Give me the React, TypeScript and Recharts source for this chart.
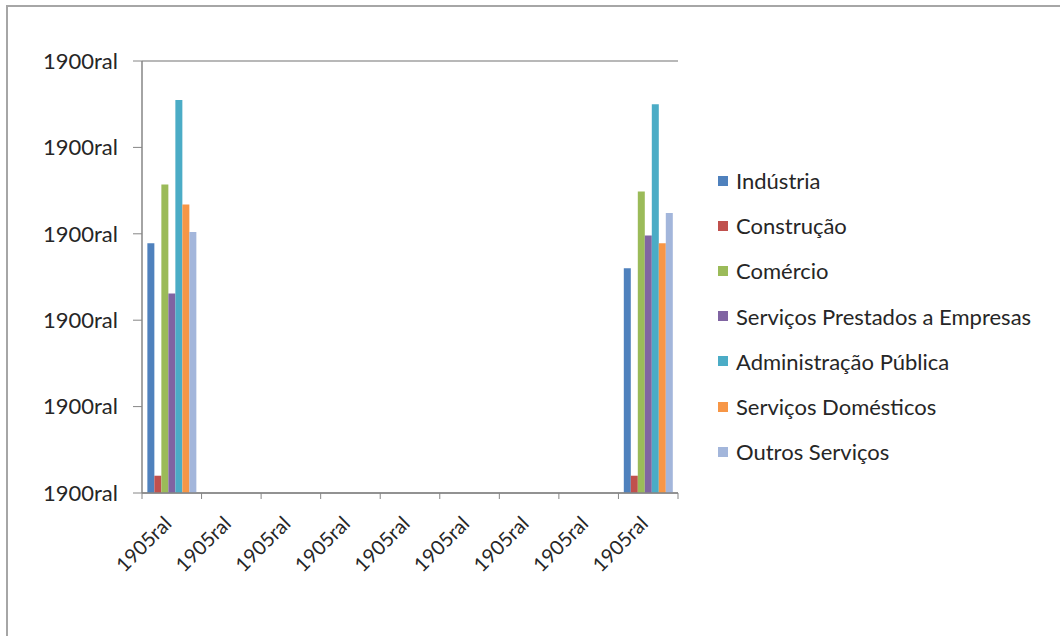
import React from "react";
import { BarChart, Bar, XAxis, YAxis, CartesianGrid } from "recharts";

// categories along the x axis (all read as the same label in the picture)
const categories = [
  "1905ral", "1905ral", "1905ral", "1905ral", "1905ral",
  "1905ral", "1905ral", "1905ral", "1905ral",
];

// y axis ticks and their labels
const yTicks = [0, 1, 2, 3, 4, 5];
const yTickLabels = ["1900ral", "1900ral", "1900ral", "1900ral", "1900ral", "1900ral"];

const seriesNames = [
  "Indústria",
  "Construção",
  "Comércio",
  "Serviços Prestados a Empresas",
  "Administração Pública",
  "Serviços Domésticos",
  "Outros Serviços",
];

const seriesColors = ["#4F81BD", "#C0504D", "#9BBB59", "#8064A2", "#4BACC6", "#F79646", "#A3B6DB"];

// values only in first and last category
const industria = [2.89, null, null, null, null, null, null, null, 2.6];
const construcao = [0.2, null, null, null, null, null, null, null, 0.2];
const comercio = [3.57, null, null, null, null, null, null, null, 3.49];
const servPrestados = [2.31, null, null, null, null, null, null, null, 2.98];
const adminPublica = [4.55, null, null, null, null, null, null, null, 4.5];
const domesticos = [3.34, null, null, null, null, null, null, null, 2.89];
const outros = [3.02, null, null, null, null, null, null, null, 3.24];

const seriesValues = [industria, construcao, comercio, servPrestados, adminPublica, domesticos, outros];

const data = categories.map((c, i) => {
  const row: any = { idx: i, label: c };
  seriesNames.forEach((n, s) => {
    row["s" + s] = seriesValues[s][i];
  });
  return row;
});

const FONT = "Lato, 'Liberation Sans', sans-serif";
const PLOT_LEFT = 142;
const PLOT_RIGHT = 678;
const PLOT_BOTTOM = 493;
const BAND = (PLOT_RIGHT - PLOT_LEFT) / categories.length;

// tick marks sit on the category boundaries, labels at the centers
const XTick = (props: any) => {
  const { x, payload, index } = props;
  const axisY = PLOT_BOTTOM;
  const left = x - BAND / 2;
  const right = x + BAND / 2;
  const tx = x + 1;
  const ty = axisY + 32;
  return (
    <g>
      <line x1={left} y1={axisY} x2={left} y2={axisY + 6} stroke="#868686" />
      {index === categories.length - 1 && (
        <line x1={right} y1={axisY} x2={right} y2={axisY + 6} stroke="#868686" />
      )}
      <text
        x={tx}
        y={ty}
        transform={`rotate(-45 ${tx} ${ty})`}
        textAnchor="end"
        fontSize={20}
        fontFamily={FONT}
        fill="#262626"
      >
        {categories[payload.value]}
      </text>
    </g>
  );
};

const Legend = () => (
  <div style={{ position: "absolute", left: 718, top: 158, fontFamily: FONT, fontSize: 22, color: "#262626" }}>
    {seriesNames.map((n, i) => (
      <div key={n} style={{ display: "flex", alignItems: "center", height: 45.2 }}>
        <span style={{ width: 10, height: 10, background: seriesColors[i], marginRight: 8 }} />
        <span>{n}</span>
      </div>
    ))}
  </div>
);

export default function App() {
  return (
    <div style={{ position: "fixed", left: 0, top: 0, width: 1060, height: 636, background: "#fff" }}>
      <div
        style={{
          position: "absolute", left: 6, top: 5, right: 0, bottom: 0,
          borderTop: "2px solid #a6a6a6", borderLeft: "2px solid #a6a6a6",
        }}
      />
      <div style={{ position: "absolute", left: 0, top: 0 }}>
        <BarChart
          width={1060}
          height={636}
          data={data}
          margin={{ top: 61, right: 1060 - PLOT_RIGHT, bottom: 0, left: 0 }}
          barCategoryGap="9%"
          barGap={0}
        >
          <CartesianGrid vertical={false} stroke="#a0a0a0" strokeWidth={1.5} />
          <XAxis
            dataKey="idx"
            height={636 - PLOT_BOTTOM}
            axisLine={{ stroke: "#868686", strokeWidth: 1.5 }}
            tickLine={false}
            tick={<XTick />}
            interval={0}
            tickSize={0}
            tickMargin={8}
          />
          <YAxis
            yAxisId="left"
            width={PLOT_LEFT}
            domain={[0, 5]}
            ticks={yTicks}
            tickFormatter={(v: number) => yTickLabels[yTicks.indexOf(v)]}
            axisLine={{ stroke: "#868686", strokeWidth: 1.5 }}
            tickLine={{ stroke: "#868686" }}
            tickSize={9}
            tickMargin={15}
            tick={{ fontSize: 22, fontFamily: FONT, fill: "#262626" }}
          />
          <YAxis
            yAxisId="right"
            orientation="right"
            width={0}
            domain={[0, 5]}
            ticks={yTicks}
            tick={false}
            tickLine={false}
            axisLine={{ stroke: "#bfbfbf" }}
          />
          {seriesNames.map((n, i) => (
            <Bar
              key={n}
              yAxisId="left"
              dataKey={"s" + i}
              name={n}
              fill={seriesColors[i]}
              isAnimationActive={false}
            />
          ))}
        </BarChart>
      </div>
      <Legend />
    </div>
  );
}
